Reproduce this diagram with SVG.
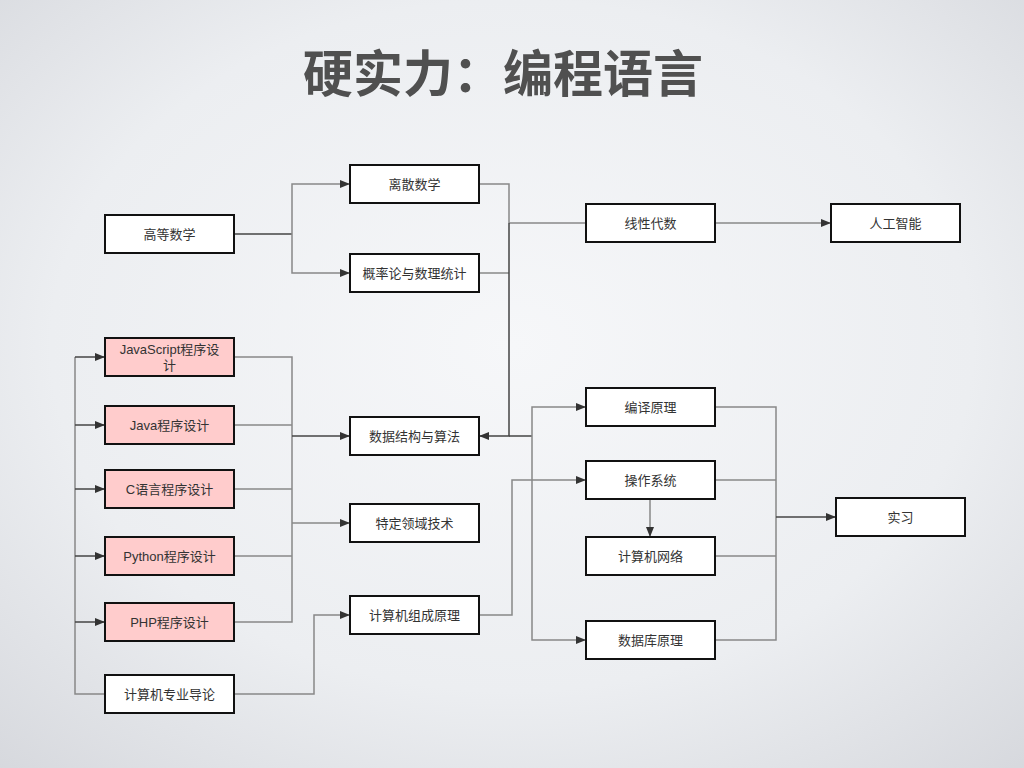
<svg xmlns="http://www.w3.org/2000/svg" width="1024" height="768" viewBox="0 0 1024 768">
<defs>
<radialGradient id="bg" cx="50%" cy="45%" r="75%">
<stop offset="0" stop-color="#f6f7f9"/>
<stop offset="0.6" stop-color="#eceef1"/>
<stop offset="1" stop-color="#d6d8dd"/>
</radialGradient>
<marker id="ah" viewBox="0 0 10 10" refX="10" refY="5" markerWidth="10" markerHeight="10" markerUnits="userSpaceOnUse" orient="auto">
<path d="M0,1 L10,5 L0,9 Z" fill="#333"/>
</marker>
<style>
.n rect{fill:#fff;stroke:#111;stroke-width:2}
.p rect{fill:#ffcccc}
.n text{font-family:"Liberation Sans","Noto Sans CJK SC",sans-serif;font-size:13px;fill:#333;text-anchor:middle}
.c path{fill:none;stroke:#888;stroke-width:1.5}
.c .d{stroke:#444}
.c .a{marker-end:url(#ah)}
</style>
</defs>
<rect width="1024" height="768" fill="url(#bg)"/>
<text x="503" y="92" font-family="'Noto Sans CJK SC',sans-serif" font-weight="bold" font-size="50" fill="#505050" text-anchor="middle">硬实力：编程语言</text>
<g id="connectors" class="c">
<path class="d" d="M234,234 H292"/>
<path class="a" d="M292,234 V184 H350"/>
<path class="a" d="M292,234 V273 H350"/>
<path d="M479,184 H509 V223"/>
<path d="M479,273 H509"/>
<path d="M509,223 H586"/>
<path class="d a" d="M509,223 V436 H479"/>
<path class="a" d="M715,223 H831"/>
<path class="d" d="M509,436 H532"/>
<path class="a" d="M532,436 V407 H586"/>
<path class="a" d="M532,436 V640 H586"/>
<path class="a" d="M479,615 H512 V480 H586"/>
<path class="a" d="M650,499 V537"/>
<path d="M715,407 H776 V640 H715"/>
<path d="M715,480 H776"/>
<path d="M715,556 H776"/>
<path class="d a" d="M776,517 H836"/>
<path d="M105,694 H75 V357"/>
<path class="d a" d="M75,357 H105"/>
<path class="d a" d="M75,425 H105"/>
<path class="d a" d="M75,489 H105"/>
<path class="d a" d="M75,556 H105"/>
<path class="d a" d="M75,622 H105"/>
<path class="a" d="M234,694 H314 V615 H350"/>
<path d="M234,357 H292 V622 H234"/>
<path d="M234,425 H292"/>
<path d="M234,489 H292"/>
<path d="M234,556 H292"/>
<path class="d a" d="M292,436 H350"/>
<path class="a" d="M292,523 H350"/>
</g>
<g id="n-gdsx" class="n"><rect x="105" y="215" width="129" height="38"/><text x="169.5" y="239">高等数学</text></g>
<g id="n-lssx" class="n"><rect x="350" y="165" width="129" height="38"/><text x="414.5" y="189">离散数学</text></g>
<g id="n-gll" class="n"><rect x="350" y="254" width="129" height="38"/><text x="414.5" y="278">概率论与数理统计</text></g>
<g id="n-xxds" class="n"><rect x="586" y="204" width="129" height="38"/><text x="650.5" y="228">线性代数</text></g>
<g id="n-rgzn" class="n"><rect x="831" y="204" width="129" height="38"/><text x="895.5" y="228">人工智能</text></g>
<g id="n-js" class="n p"><rect x="105" y="338" width="129" height="38"/><text x="169.5" y="354">JavaScript程序设</text><text x="169.5" y="370">计</text></g>
<g id="n-java" class="n p"><rect x="105" y="406" width="129" height="38"/><text x="169.5" y="430">Java程序设计</text></g>
<g id="n-c" class="n p"><rect x="105" y="470" width="129" height="38"/><text x="169.5" y="494">C语言程序设计</text></g>
<g id="n-py" class="n p"><rect x="105" y="537" width="129" height="38"/><text x="169.5" y="561">Python程序设计</text></g>
<g id="n-php" class="n p"><rect x="105" y="603" width="129" height="38"/><text x="169.5" y="627">PHP程序设计</text></g>
<g id="n-dl" class="n"><rect x="105" y="675" width="129" height="38"/><text x="169.5" y="699">计算机专业导论</text></g>
<g id="n-sjjg" class="n"><rect x="350" y="417" width="129" height="38"/><text x="414.5" y="441">数据结构与算法</text></g>
<g id="n-tdly" class="n"><rect x="350" y="504" width="129" height="38"/><text x="414.5" y="528">特定领域技术</text></g>
<g id="n-zcyl" class="n"><rect x="350" y="596" width="129" height="38"/><text x="414.5" y="620">计算机组成原理</text></g>
<g id="n-byyl" class="n"><rect x="586" y="388" width="129" height="38"/><text x="650.5" y="412">编译原理</text></g>
<g id="n-czxt" class="n"><rect x="586" y="461" width="129" height="38"/><text x="650.5" y="485">操作系统</text></g>
<g id="n-jsjwl" class="n"><rect x="586" y="537" width="129" height="38"/><text x="650.5" y="561">计算机网络</text></g>
<g id="n-sjk" class="n"><rect x="586" y="621" width="129" height="38"/><text x="650.5" y="645">数据库原理</text></g>
<g id="n-sx" class="n"><rect x="836" y="498" width="129" height="38"/><text x="900.5" y="522">实习</text></g>
</svg>
